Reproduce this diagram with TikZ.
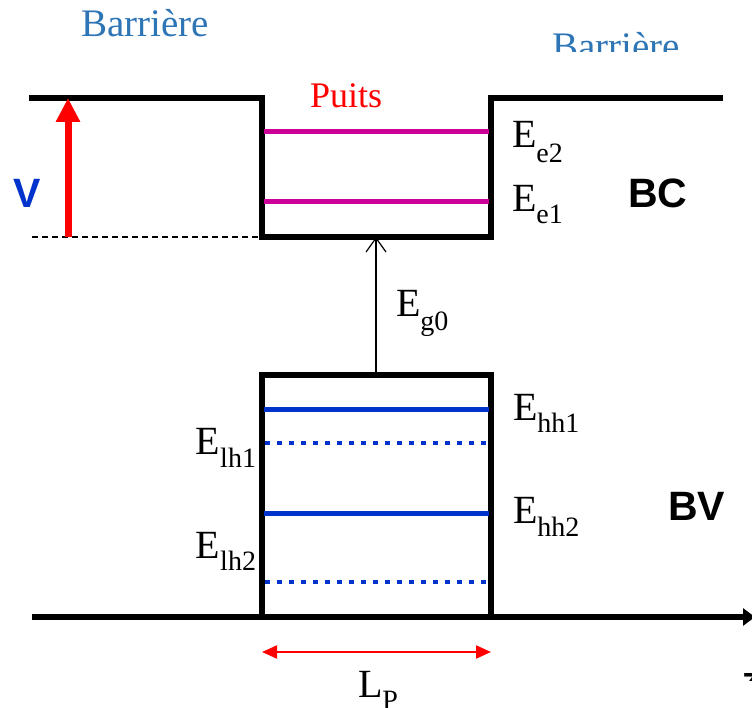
\documentclass[tikz,border=0pt]{standalone}
\usepackage{fontspec}
\setmainfont{Liberation Serif}
\newfontfamily\arialb[]{Liberation Sans Bold}
\usetikzlibrary{arrows.meta}
\definecolor{barblue}{RGB}{46,117,182}
\definecolor{vblue}{RGB}{0,51,204}
\definecolor{lvblue}{RGB}{0,51,204}
\definecolor{lvmag}{RGB}{204,0,153}
\definecolor{pred}{RGB}{255,0,0}
\newcommand{\fsz}[1]{\fontsize{#1pt}{#1pt}\selectfont}
\newcommand{\elab}[3]{E\raisebox{-#2pt}{\fsz{28}#1}}
\begin{document}
\begin{tikzpicture}[x=1pt,y=-1pt,
  band/.style={line width=5.5pt,black,line join=miter,line cap=rect},
  levelmag/.style={line width=5pt,lvmag},
  levelhh/.style={line width=5pt,lvblue},
  levellh/.style={line width=4.5pt,lvblue,dash pattern=on 4.5pt off 7.5pt},
  lbl/.style={anchor=base west,inner sep=0pt,outer sep=0pt},
  elbl/.style={lbl,font=\fsz{40}},
  sans/.style={lbl,font=\arialb\fsz{41}}]
\useasboundingbox (0,0) rectangle (752,708);
% coordinates
\coordinate (bL) at (32,98);
\coordinate (wTL) at (262,98);
\coordinate (wBL) at (262,237);
\coordinate (wBR) at (491,237);
\coordinate (wTR) at (491,98);
\coordinate (bR) at (720,98);
\coordinate (dL) at (32,237);
\coordinate (vTop) at (68,98);
\coordinate (vBot) at (68,237);
\coordinate (cbBot) at (376,237);
\coordinate (vbTop) at (376,375);
\coordinate (hTL) at (262,375);
\coordinate (hTR) at (491,375);
\coordinate (hBL) at (262,617);
\coordinate (hBR) at (491,617);
\coordinate (axL) at (32,617);
\coordinate (axR) at (755,617);
\coordinate (lpL) at (262,652);
\coordinate (lpR) at (491,652);
% conduction band
\draw[band] (bL) -- (wTL) -- (wBL) -- (wBR) -- (wTR) -- (bR);
\draw[line width=1.3pt,dash pattern=on 6pt off 4pt] (dL) -- (wBL);
\draw[levelmag] (264,132) -- (489,132);
\draw[levelmag] (264,202) -- (489,202);
\draw[line width=7pt,pred,-{Triangle[length=24pt,width=23pt]}] (vBot) -- (vTop);
% gap arrow
\draw[line width=1.2pt,-{Straight Barb[length=14pt,width=20pt,line width=1.2pt]}] (vbTop) -- (cbBot);
% valence band
\draw[band] (hBL) -- (hTL) -- (hTR) -- (hBR);
\draw[line width=5.5pt,-{Triangle[length=12pt,width=17pt]}] (axL) -- (axR);
\draw[levelhh] (264,409) -- (489,409);
\draw[levelhh] (264,513) -- (489,513);
\draw[levellh] (265,443) -- (491,443);
\draw[levellh] (265,582) -- (491,582);
\draw[line width=2pt,pred,{Triangle[length=15pt,width=13pt]}-{Triangle[length=15pt,width=13pt]}] (lpL) -- (lpR);
% labels
\node[lbl,font=\fsz{39},text=barblue] (bar1) at (81,37) {Barrière};
\begin{scope}
\clip (540,0) rectangle (720,52);
\node[lbl,font=\fsz{39},text=barblue] (bar2) at (552,60) {Barrière};
\end{scope}
\node[lbl,font=\fsz{36},text=pred] (puits) at (310,108) {Puits};
\node[elbl] (ee2) at (512,148) {\elab{e2}{15}{}};
\node[elbl] (ee1) at (512,212) {\elab{e1}{12}{}};
\node[elbl] (eg0) at (396,317) {\elab{g0}{14}{}};
\node[elbl] (ehh1) at (513,420) {\elab{hh1}{13}{}};
\node[elbl] (ehh2) at (513,523) {\elab{hh2}{13}{}};
\node[elbl,anchor=base east] (elh1) at (256,454) {\elab{lh1}{13}{}};
\node[elbl,anchor=base east] (elh2) at (256,558) {\elab{lh2}{12}{}};
\node[elbl] (lp) at (358,697) {L\raisebox{-12pt}{\fsz{28}P}};
\node[sans,text=vblue] (vlab) at (13,208) {V};
\node[sans] (bc) at (628,208) {BC};
\node[sans] (bv) at (668,520) {BV};
\begin{scope}
\clip (738,660) rectangle (752,680);
\node[lbl,font=\arialb\fsz{36}] (zlab) at (742,692) {z};
\end{scope}
\end{tikzpicture}
\end{document}
